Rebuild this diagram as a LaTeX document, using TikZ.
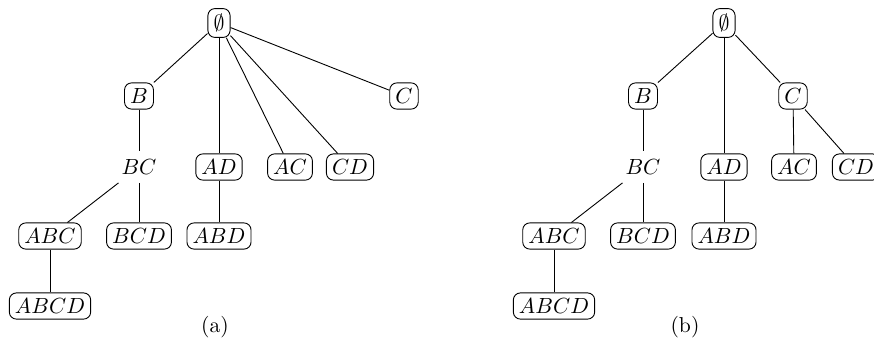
\documentclass[tikz,border=0pt]{standalone}
\begin{document}
\begin{tikzpicture}[x=0.5pt,y=-0.5pt,
  every node/.style={font=\fontsize{10.8}{13}\selectfont},
  setbox/.style={draw,rounded corners=3.5pt,inner xsep=2.8pt,inner ysep=2.8pt,line width=0.45pt},
  plain/.style={inner xsep=3pt,inner ysep=4pt},
  edge/.style={line width=0.45pt}]
\useasboundingbox (0,0) rectangle (874,343);
% (a)
\node[setbox] (a0) at (219,23) {$\emptyset$};
\node[setbox] (aB) at (139,96) {$B$};
\node[setbox] (aC) at (404,96) {$C$};
\node[plain] (aBC) at (139,167) {$BC$};
\node[setbox] (aAD) at (219,167) {$AD$};
\node[setbox] (aAC) at (290,167) {$AC$};
\node[setbox] (aCD) at (350,167) {$CD$};
\node[setbox] (aABC) at (50,236) {$ABC$};
\node[setbox] (aBCD) at (139,236) {$BCD$};
\node[setbox] (aABD) at (219,236) {$ABD$};
\node[setbox] (aABCD) at (50,306) {$ABCD$};
\node (capa) at (215,327) {(a)};
\draw[edge] (a0) -- (aB);
\draw[edge] (a0) -- (aAD);
\draw[edge] (a0) -- (aAC);
\draw[edge] (a0) -- (aCD);
\draw[edge] (a0) -- (aC);
\draw[edge] (aB) -- (aBC);
\draw[edge] (aBC) -- (aABC);
\draw[edge] (aBC) -- (aBCD);
\draw[edge] (aABC) -- (aABCD);
\draw[edge] (aAD) -- (aABD);
% (b)
\node[setbox] (b0) at (724,23) {$\emptyset$};
\node[setbox] (bB) at (643,96) {$B$};
\node[setbox] (bC) at (793,96) {$C$};
\node[plain] (bBC) at (643,167) {$BC$};
\node[setbox] (bAD) at (724,167) {$AD$};
\node[setbox] (bAC) at (794,167) {$AC$};
\node[setbox] (bCD) at (856,167) {$CD$};
\node[setbox] (bABC) at (554,236) {$ABC$};
\node[setbox] (bBCD) at (643,236) {$BCD$};
\node[setbox] (bABD) at (724,236) {$ABD$};
\node[setbox] (bABCD) at (554,306) {$ABCD$};
\node (capb) at (685,327) {(b)};
\draw[edge] (b0) -- (bB);
\draw[edge] (b0) -- (bAD);
\draw[edge] (b0) -- (bC);
\draw[edge] (bC) -- (bAC);
\draw[edge] (bC) -- (bCD);
\draw[edge] (bB) -- (bBC);
\draw[edge] (bBC) -- (bABC);
\draw[edge] (bBC) -- (bBCD);
\draw[edge] (bABC) -- (bABCD);
\draw[edge] (bAD) -- (bABD);
\end{tikzpicture}
\end{document}
